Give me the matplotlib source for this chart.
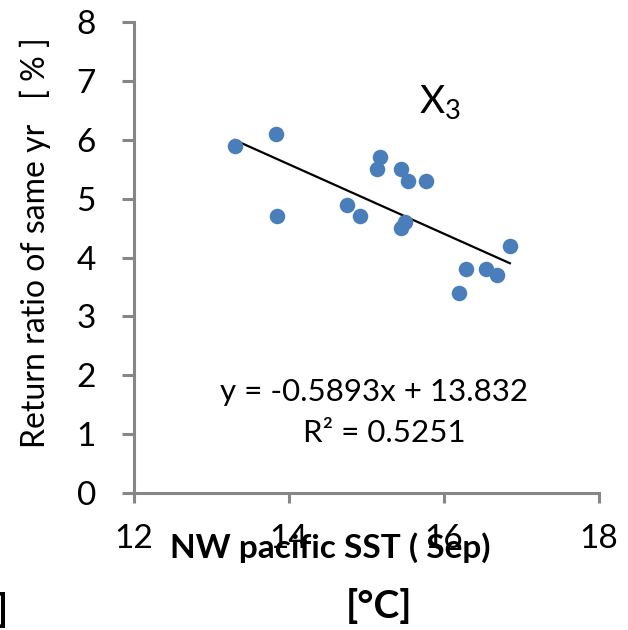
import matplotlib
matplotlib.use("Agg")
import matplotlib.pyplot as plt
import numpy as np

plt.rcParams['font.family'] = ['Lato', 'DejaVu Sans']
plt.rcParams['mathtext.fontset'] = 'custom'
plt.rcParams['mathtext.rm'] = 'Lato'

# Data
sst = [13.30, 13.83, 13.84, 15.18, 15.14, 15.44, 15.53, 15.77, 14.75,
       14.91, 15.50, 15.44, 16.85, 16.28, 16.54, 16.69, 16.19]
ratio = [5.9, 6.1, 4.7, 5.7, 5.5, 5.5, 5.3, 5.3, 4.9,
         4.7, 4.6, 4.5, 4.2, 3.8, 3.8, 3.7, 3.4]
slope = -0.5893
intercept = 13.832
r2 = 0.5251
xticks = [12, 14, 16, 18]
yticks = [0, 1, 2, 3, 4, 5, 6, 7, 8]

W, H = 628, 630
fig = plt.figure(figsize=(W / 100, H / 100), dpi=100)
ax = fig.add_axes([134 / W, 137 / H, (599 - 134) / W, (493 - 22) / H])

ax.scatter(sst, ratio, s=125, color='#4a7ebb', zorder=3, linewidths=0)
xl = np.array([min(sst), max(sst)])
ax.plot(xl, slope * xl + intercept, color='black', lw=1.6, zorder=2)

ax.set_xlim(12, 18)
ax.set_ylim(0, 8)
ax.set_xticks(xticks)
ax.set_yticks(yticks)
ax.set_xticklabels([str(t) for t in xticks])
ax.set_yticklabels([str(t) for t in yticks])
for s in ['top', 'right']:
    ax.spines[s].set_visible(False)
for s in ['left', 'bottom']:
    ax.spines[s].set_color('#868686')
    ax.spines[s].set_linewidth(2.2)
ax.tick_params(axis='y', direction='out', length=8.5, width=2.2, color='#868686',
               labelsize=24, pad=19)
ax.tick_params(axis='x', direction='out', length=7.5, width=2.2, color='#868686',
               labelsize=24, pad=15)

ax.text(15.10, 1.71, f"y = {slope}x + {intercept}", fontsize=22.5,
        ha='center', va='center')
ax.text(15.23, 1.02, f"R² = {r2}", fontsize=22.5, ha='center', va='center')
ax.text(15.95, 6.64, r"$\mathregular{X_3}$", fontsize=28, ha='center', va='center')

fig.text(35 / W, 1 - 243 / H, "Return ratio of same yr   [ % ]", rotation=90,
         fontsize=23, ha='center', va='center')
fig.text(330 / W, 1 - 548 / H, "NW pacific SST ( Sep)", fontsize=24,
         fontweight='bold', ha='center', va='center')
fig.text(379 / W, 1 - 606 / H, "[°C]", fontsize=28,
         fontweight='bold', ha='center', va='center')
fig.text(8 / W, 1 - 610 / H, "]", fontsize=28,
         fontweight='bold', ha='right', va='center')

fig.savefig("out.png", dpi=100)
